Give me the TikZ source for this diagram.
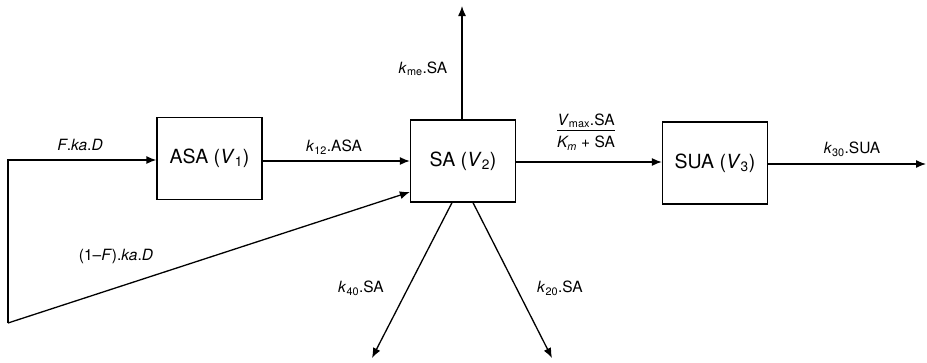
\documentclass[tikz,border=0pt]{standalone}
\usepackage{fontspec}
\setmainfont{TeX Gyre Heros}
\usetikzlibrary{arrows.meta}
\begin{document}
\begin{tikzpicture}[x=1pt,y=-1pt,
  comp/.style={draw,line width=1.3pt,minimum width=105pt,minimum height=82pt,inner sep=0pt,font=\fontsize{19.5}{22}\selectfont},
  lab/.style={font=\fontsize{15.5}{18}\selectfont,inner sep=0pt},
  flow/.style={line width=1.3pt,-{Latex[length=10pt,width=8pt]}},
  wire/.style={line width=1.3pt}]
\useasboundingbox (0,0) rectangle (927,362);
\node[comp] (asa) at (209.5,158.5) {ASA (\textit{V}\textsubscript{1})};
\node[comp] (sa) at (463,161) {SA (\textit{V}\textsubscript{2})};
\node[comp] (sua) at (715,163) {SUA (\textit{V}\textsubscript{3})};
\coordinate (c1) at (8,160);
\coordinate (c2) at (8,323);
\coordinate (out3) at (926,164);
\coordinate (outme) at (462,6);
\coordinate (out40) at (372,358);
\coordinate (out20) at (552,358);
\draw[flow] (c2) -- (c1) -- (asa.west |- c1);
\draw[flow] (c2) -- ([yshift=-31pt]sa.west);
\draw[flow] (asa.east |- 0,161) -- (sa.west |- 0,161);
\draw[flow] (sa.east |- 0,162) -- (sua.west |- 0,162);
\draw[flow] (sua.east |- out3) -- (out3);
\draw[flow] (sa.north -| outme) -- (outme);
\draw[flow] ([xshift=-11pt]sa.south) -- (out40);
\draw[flow] ([xshift=10pt]sa.south) -- (out20);
\node[lab] (l1) at (80,145) {\textit{F}.\textit{ka}.\textit{D}};
\node[lab] (l2) at (334,147) {\textit{k}\textsubscript{12}.ASA};
\node[lab] (l3) at (423,69) {\textit{k}\textsubscript{me}.SA};
\node[lab] (l4) at (586,133) {\setlength{\arrayrulewidth}{1.2pt}\begin{tabular}{@{}c@{}}\textit{V}\textsubscript{max}.SA\\[-1pt]\hline\rule{0pt}{17pt}\textit{K\textsubscript{m}} + SA\end{tabular}};
\node[lab] (l5) at (852,149) {\textit{k}\textsubscript{30}.SUA};
\node[lab] (l6) at (116,256) {(1--\textit{F}).\textit{ka}.\textit{D}};
\node[lab] (l7) at (361,288) {\textit{k}\textsubscript{40}.SA};
\node[lab] (l8) at (560,288) {\textit{k}\textsubscript{20}.SA};
\end{tikzpicture}
\end{document}
